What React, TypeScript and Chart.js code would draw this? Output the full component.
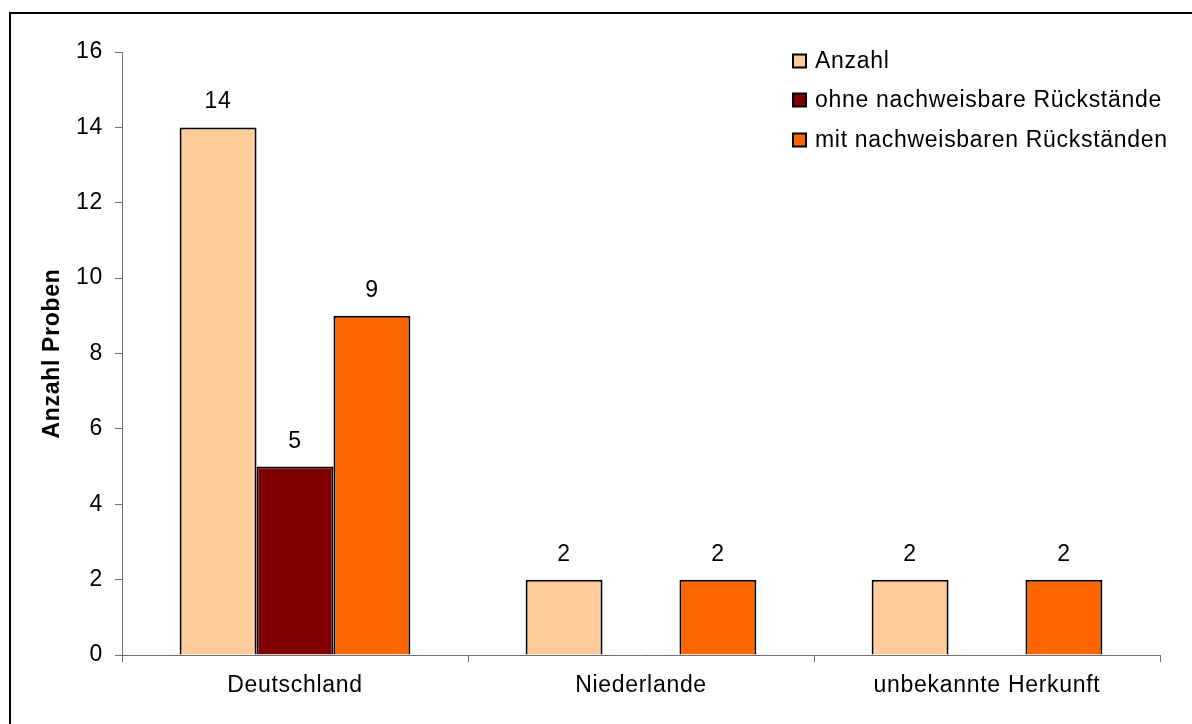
import React, { useEffect, useRef } from "react";
import { Chart, registerables } from "chart.js";

Chart.register(...registerables);

const categories = ["Deutschland", "Niederlande", "unbekannte Herkunft"];
const seriesNames = ["Anzahl", "ohne nachweisbare Rückstände", "mit nachweisbaren Rückständen"];
const anzahl = [14, 2, 2];
const ohne: (number | null)[] = [5, null, null];
const mit = [9, 2, 2];
const colors = ["#FFCC99", "#800000", "#FF6600"];
const yTicks = [0, 2, 4, 6, 8, 10, 12, 14, 16];
const yTitle = "Anzahl Proben";

const FONT = "'Liberation Sans', Arial, sans-serif";
const FS = 23;
const LS = "0.7px";

const decorPlugin = {
  id: "decor",
  beforeUpdate(chart: any) {
    chart.ctx.letterSpacing = LS;
  },
  beforeDraw(chart: any) {
    chart.ctx.letterSpacing = LS;
  },
  afterDatasetsDraw(chart: any) {
    const ctx = chart.ctx;
    ctx.save();
    ctx.letterSpacing = LS;
    ctx.fillStyle = "#000";
    ctx.font = `${FS}px ${FONT}`;
    ctx.textAlign = "center";
    ctx.textBaseline = "alphabetic";
    chart.data.datasets.forEach((ds: any, i: number) => {
      const meta = chart.getDatasetMeta(i);
      meta.data.forEach((bar: any, j: number) => {
        const v = ds.data[j];
        if (v === null || v === undefined) return;
        ctx.fillText(String(v), bar.x, bar.y - 19);
      });
    });
    ctx.restore();
  },
  afterDraw(chart: any) {
    const ctx = chart.ctx;
    const area = chart.chartArea;
    ctx.save();
    ctx.letterSpacing = LS;
    // frame
    ctx.fillStyle = "#000";
    ctx.fillRect(9, 12, chart.width, 2);
    ctx.fillRect(9, 12, 2, chart.height);
    // y title
    ctx.font = `bold ${FS}px ${FONT}`;
    ctx.textAlign = "center";
    ctx.textBaseline = "alphabetic";
    ctx.translate(59, (area.top + area.bottom) / 2);
    ctx.rotate(-Math.PI / 2);
    ctx.fillText(yTitle, 0, 0);
    ctx.restore();
    // legend
    ctx.save();
    ctx.letterSpacing = LS;
    ctx.font = `${FS}px ${FONT}`;
    ctx.textBaseline = "middle";
    ctx.textAlign = "left";
    const rows = [61, 100, 140];
    seriesNames.forEach((name, i) => {
      const y = rows[i];
      ctx.fillStyle = colors[i];
      ctx.fillRect(793, y - 6.5, 13, 13);
      ctx.strokeStyle = "#000";
      ctx.lineWidth = 2;
      ctx.strokeRect(793, y - 6.5, 13, 13);
      ctx.fillStyle = "#000";
      ctx.fillText(name, 815, y + 1);
    });
    ctx.restore();
  },
};

export default function App() {
  const ref = useRef<HTMLCanvasElement>(null);
  useEffect(() => {
    if (!ref.current) return;
    const mk = (label: string, data: (number | null)[], color: string) => ({
      label,
      data,
      backgroundColor: color,
      borderColor: "#000",
      borderWidth: 2,
      categoryPercentage: 0.667,
      barPercentage: 1,
    });
    const chart = new Chart(ref.current, {
      type: "bar",
      data: {
        labels: categories,
        datasets: [
          mk(seriesNames[0], anzahl, colors[0]),
          mk(seriesNames[1], ohne, colors[1]),
          mk(seriesNames[2], mit, colors[2]),
        ],
      },
      options: {
        responsive: false,
        animation: false,
        layout: { padding: { left: 0, top: 52, right: 32, bottom: 0 } },
        plugins: { legend: { display: false }, tooltip: { enabled: false } },
        scales: {
          x: {
            offset: true,
            grid: {
              offset: true,
              drawOnChartArea: false,
              drawTicks: true,
              tickLength: 7,
              color: "#707070",
            },
            border: { color: "#707070", width: 1 },
            ticks: {
              color: "#000",
              font: { family: FONT, size: FS },
              padding: 10,
              maxRotation: 0,
            },
            afterFit: (s: any) => {
              s.height = 69;
            },
          },
          y: {
            min: 0,
            max: 16,
            afterBuildTicks: (s: any) => {
              s.ticks = yTicks.map((v) => ({ value: v }));
            },
            grid: {
              drawOnChartArea: false,
              drawTicks: true,
              tickLength: 7,
              color: "#707070",
            },
            border: { color: "#707070", width: 1 },
            ticks: {
              color: "#000",
              font: { family: FONT, size: FS },
              padding: 12,
            },
            afterFit: (s: any) => {
              s.width = 122;
            },
          },
        },
      },
      plugins: [decorPlugin],
    });
    return () => chart.destroy();
  }, []);
  return (
    <div style={{ position: "absolute", left: 0, top: 0, width: 1192, height: 724, background: "#fff" }}>
      <canvas ref={ref} width={1192} height={724} style={{ display: "block" }} />
    </div>
  );
}
